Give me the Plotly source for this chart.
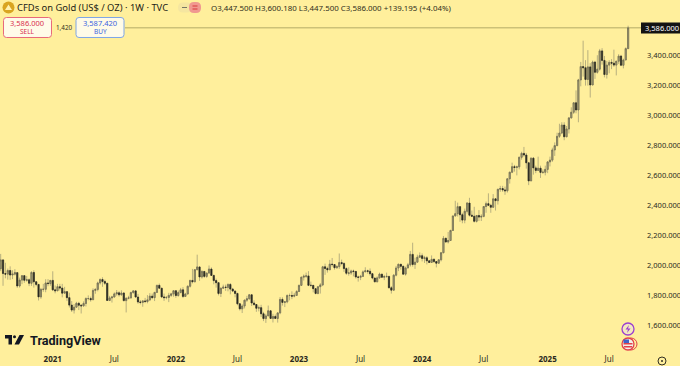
import pandas as pd
import plotly.graph_objects as go

closes = [2035,1944,1940,1964,1934,1940,1950,1861,1900,1930,1899,1902,1879,1951,1889,1871,1788,1838,1839,1881,1877,1898,
1835,1829,1856,1847,1813,1823,1783,1733,1700,1719,1745,1732,1728,1744,1777,1777,1769,1831,1838,1881,1904,1891,1879,1764,1781,1787,1808,1815,1802,1814,1763,1779,1781,1817,1828,1787,1754,1751,1761,1757,1768,1793,1783,1818,1865,1846,1788,1783,1784,1798,1808,1829,
1797,1817,1835,1791,1807,1859,1898,1889,1970,1988,1921,1958,1925,1947,1974,1931,1897,1883,1811,1846,1853,1851,1871,1840,1827,1811,1742,1708,1727,1766,1775,1802,1747,1737,1712,1716,1675,1643,1661,1695,1644,1657,1644,1681,1771,1751,1755,1797,1797,1793,1798,1824,
1865,1920,1926,1928,1865,1865,1843,1811,1856,1868,1989,1978,1969,2007,2004,1983,1990,2017,2011,1977,1946,1948,1961,1958,1921,1919,1925,1955,1962,1959,1943,1914,1889,1915,1940,1919,1924,1925,1849,1833,1933,1981,2006,1992,1940,1981,2002,2072,2005,2020,2053,2063,
2045,2049,2029,2018,2039,2024,2013,2036,2083,2179,2155,2165,2232,2329,2344,2391,2337,2301,2360,2415,2334,2327,2293,2332,2321,2326,2392,2411,2400,2387,2443,2431,2507,2512,2503,2497,2577,2621,2658,2653,2657,2721,2747,2736,2684,2563,2715,2650,2633,2648,2620,2621,2640,
2690,2702,2770,2799,2861,2883,2936,2858,2910,2984,3022,3085,3037,3238,3327,3319,3241,3325,3204,3357,3289,3310,3432,3368,3274,3337,3355,3350,3337,3363,3397,3336,3371,3447,3586]
highs = [2075,2040,2016,1977,1992,1966,1973,1953,1917,1932,1933,1928,1911,1960,1966,1893,1875,1848,1875,1906,1907,1900,
1959,1864,1875,1875,1875,1855,1825,1816,1760,1740,1755,1755,1740,1758,1785,1798,1790,1845,1845,1890,1912,1919,1903,1879,1795,1795,1818,1834,1825,1832,1818,1785,1795,1823,1834,1834,1808,1767,1765,1781,1800,1813,1810,1820,1869,1877,1810,1810,1794,1815,1815,1830,
1832,1830,1848,1853,1815,1865,1902,1975,1974,2070,1990,1966,1950,1950,1998,1985,1937,1910,1885,1850,1870,1870,1878,1880,1848,1830,1815,1745,1739,1770,1795,1807,1802,1765,1740,1730,1735,1688,1675,1730,1690,1675,1670,1685,1787,1785,1760,1805,1810,1825,1815,1833,
1870,1922,1938,1950,1960,1890,1855,1846,1858,1880,1995,2010,1990,2035,2048,2006,2000,2078,2037,2020,1985,1985,1970,1970,1960,1930,1935,1965,1986,1970,1978,1948,1915,1925,1950,1930,1935,1950,1925,1860,1940,1995,2010,2005,1998,1990,2015,2095,2150,2050,2070,2085,
2078,2062,2060,2035,2065,2045,2025,2040,2088,2195,2185,2222,2236,2330,2430,2418,2395,2350,2378,2422,2450,2365,2390,2335,2368,2340,2395,2425,2480,2410,2475,2445,2510,2530,2530,2525,2580,2625,2685,2670,2665,2725,2758,2790,2750,2690,2720,2722,2665,2725,2665,2640,2665,
2695,2725,2785,2820,2885,2945,2955,2955,2930,2990,3055,3088,3168,3245,3358,3500,3370,3437,3350,3367,3365,3403,3445,3450,3398,3365,3370,3377,3440,3365,3410,3405,3380,3455,3600.18]
lows = [1960,1862,1912,1903,1902,1907,1931,1848,1850,1873,1882,1889,1860,1861,1850,1859,1764,1775,1822,1819,1859,1862,
1827,1812,1826,1830,1785,1812,1760,1717,1687,1677,1719,1700,1677,1722,1724,1765,1756,1770,1809,1825,1870,1855,1867,1761,1760,1750,1784,1796,1790,1796,1758,1684,1772,1778,1809,1783,1742,1738,1722,1746,1745,1760,1772,1760,1815,1844,1780,1761,1772,1753,1788,1789,
1782,1789,1812,1780,1788,1807,1850,1878,1885,1965,1895,1910,1915,1915,1945,1930,1872,1850,1798,1787,1841,1828,1825,1805,1820,1785,1732,1697,1680,1711,1754,1770,1727,1728,1688,1691,1654,1626,1614,1660,1641,1617,1640,1616,1672,1730,1720,1745,1765,1773,1785,1795,
1825,1868,1897,1915,1860,1852,1818,1805,1805,1810,1860,1935,1950,1975,1990,1970,1975,1975,2000,1955,1935,1930,1935,1925,1910,1890,1900,1925,1960,1943,1930,1905,1885,1885,1910,1915,1900,1915,1845,1810,1828,1925,1960,1970,1935,1930,1985,1990,1990,1975,2020,2050,
2025,2015,2005,2015,2015,2015,1985,2010,2025,2080,2150,2145,2165,2230,2325,2325,2290,2280,2280,2345,2325,2325,2285,2285,2295,2295,2320,2350,2395,2350,2385,2365,2405,2490,2490,2470,2485,2545,2615,2625,2600,2640,2705,2725,2645,2535,2565,2605,2615,2630,2583,2610,2600,
2615,2660,2690,2730,2795,2850,2875,2835,2855,2880,2980,3010,3015,2955,3195,3260,3200,3200,3120,3205,3245,3280,3300,3340,3255,3247,3282,3310,3325,3268,3345,3330,3315,3375,3447.5]
first_open = 1976
opens = [first_open] + closes[:-1]
dates = pd.date_range("2020-08-03", periods=len(closes), freq="7D")
body_tops = [max(o, c) for o, c in zip(opens, closes)]
body_bottoms = [min(o, c) for o, c in zip(opens, closes)]

tick_dates = ["2021-01-04","2021-07-05","2022-01-03","2022-07-04","2023-01-02","2023-07-03","2024-01-01","2024-07-01","2025-01-06","2025-07-07"]
tick_labels = ["<b>2021</b>","Jul","<b>2022</b>","Jul","<b>2023</b>","Jul","<b>2024</b>","Jul","<b>2025</b>","Jul"]
price_ticks = [1600,1800,2000,2200,2400,2600,2800,3000,3200,3400]
last_close = 3586
title_text = "CFDs on Gold (US$ / OZ) · 1W · TVC"
ohlc_text = "O3,447.500 H3,600.180 L3,447.500 C3,586.000 +139.195 (+4.04%)"

W, H, ML, MR, MT, MB = 680, 366, 0, 37, 0, 16
PW, PH = W-ML-MR, H-MT-MB
px = lambda x: (x-ML)/PW
py = lambda y: 1-(y-MT)/PH
BG = "#FFEF9C"
FONT = "Noto Sans"
INK = "#2b2a1e"

fig = go.Figure()
WICK = "#a6a077"
fig.add_trace(go.Candlestick(
    x=dates, open=opens, high=highs, low=lows, close=closes,
    increasing=dict(line=dict(color=WICK, width=0.8), fillcolor=WICK),
    decreasing=dict(line=dict(color=WICK, width=0.8), fillcolor=WICK),
    whiskerwidth=0, hoverinfo="skip", showlegend=False))
fig.add_trace(go.Candlestick(
    x=dates, open=opens, high=body_tops, low=body_bottoms, close=closes,
    increasing=dict(line=dict(color="#6c684c", width=0.6), fillcolor="#a8a27a"),
    decreasing=dict(line=dict(color="#2a2a20", width=0.6), fillcolor="#2a2a20"),
    whiskerwidth=0, hoverinfo="skip", showlegend=False))

shapes = []
annots = []
def text(x, y, s, size=8, color=INK, anchor="left", **kw):
    annots.append(dict(xref="paper", yref="paper", x=px(x), y=py(y), text=s, showarrow=False,
                       xanchor=anchor, yanchor="middle", font=dict(family=FONT, size=size, color=color),
                       borderpad=0, borderwidth=0, **kw))
def box(x0, y0, x1, y1, fill, line=None, lw=1, kind="rect"):
    shapes.append(dict(type=kind, xref="paper", yref="paper", x0=px(x0), x1=px(x1), y0=py(y0), y1=py(y1),
                       fillcolor=fill, line=dict(color=line or fill, width=lw if line else 0), layer="above"))
def path(points, fill, line=None, lw=1):
    d = "M" + " L".join(f"{px(a):.5f},{py(b):.5f}" for a, b in points) + " Z"
    shapes.append(dict(type="path", xref="paper", yref="paper", path=d, fillcolor=fill,
                       line=dict(color=line or fill, width=lw if line else 0), layer="above"))
def rbox(x0, y0, x1, y1, r, fill, line=None, lw=1):
    P = lambda a, b: f"{px(a):.5f},{py(b):.5f}"
    d = (f"M{P(x0+r,y0)} L{P(x1-r,y0)} Q{P(x1,y0)} {P(x1,y0+r)} L{P(x1,y1-r)} Q{P(x1,y1)} {P(x1-r,y1)} "
         f"L{P(x0+r,y1)} Q{P(x0,y1)} {P(x0,y1-r)} L{P(x0,y0+r)} Q{P(x0,y0)} {P(x0+r,y0)} Z")
    shapes.append(dict(type="path", xref="paper", yref="paper", path=d, fillcolor=fill,
                       line=dict(color=line or fill, width=lw if line else 0), layer="above"))

# last price line and label
shapes.append(dict(type="line", xref="paper", yref="y", x0=px(125), x1=px(641), y0=last_close, y1=last_close,
                   line=dict(color="#b3aa68", width=1), layer="below"))
box(641, 22.5, 680, 33.5, "#131313")
text(678.5, 28, "3,586.000", size=7.5, color="#ffffff", anchor="right")

# header
box(2.5, 1.5, 14.5, 13.5, "#D9A520", kind="circle")
path([(5, 10), (8.5, 4.5), (12, 10)], "#FFF2B0")
text(17, 7.5, title_text, size=9.4, color="#1d1c16")
rbox(178, 2.5, 192, 12.5, 5, "#F5E6A0")
rbox(189, 2, 201, 13, 5, "#F09890")
path([(182, 7), (187, 7), (187, 8), (182, 8)], "#777763")
path([(192.5, 5.5), (197.5, 5.5), (197.5, 6.5), (192.5, 6.5)], "#D8383A")
path([(192.5, 8.5), (197.5, 8.5), (197.5, 9.5), (192.5, 9.5)], "#D8383A")
text(211, 7.5, ohlc_text, size=7.9, color="#302e20")

# sell/buy boxes
rbox(3.5, 17.5, 51.5, 37.5, 3, "#FFFBE8", "#E8697A", 1)
rbox(76, 17.5, 124, 37.5, 3, "#FFFBE8", "#7FA6E6", 1)
text(27.5, 23, "3,586.000", size=7.5, color="#D9304F", anchor="center")
text(27.5, 31.5, "SELL", size=6.5, color="#D9304F", anchor="center")
text(100, 23, "3,587.420", size=7.5, color="#3B63E0", anchor="center")
text(100, 31.5, "BUY", size=6.5, color="#3B63E0", anchor="center")
text(64, 27, "1,420", size=6.3, color="#333022", anchor="center")

# logo
path([(5, 335), (12, 335), (12, 344.5), (8.5, 344.5), (8.5, 338.5), (5, 338.5)], "#131722")
box(13, 335.2, 16, 338.3, "#131722", kind="circle")
path([(19.5, 335), (24, 335), (19, 344.5), (14.5, 344.5)], "#131722")
annots.append(dict(xref="paper", yref="paper", x=px(28), y=py(340), text="<b>TradingView</b>", showarrow=False,
                   xanchor="left", yanchor="middle", font=dict(family="Roboto", size=12.6, color="#131722")))

# event icons
box(622, 323, 634, 335, "#F4E9C0", "#9B3FD0", 1.3, kind="circle")
path([(629, 325), (625.5, 329.5), (628, 329.5), (627, 333), (630.5, 328.5), (628, 328.5)], "#9B3FD0")
box(625, 338, 637, 350, "rgba(0,0,0,0)", "#E2404A", 1, kind="circle")
box(622, 338, 634, 350, "#F2F0E8", "#E2404A", 1.3, kind="circle")
box(623.5, 343, 632.5, 344.5, "#E2404A")
box(624, 346, 632, 347.5, "#E2404A")
box(623.5, 339.5, 629, 343, "#3F63C8")

# gear
box(658, 357, 666, 365, "rgba(0,0,0,0)", "#333022", 1, kind="circle")
box(661, 360, 663, 362, "#333022", kind="circle")

fig.update_layout(
    width=W, height=H, margin=dict(l=ML, r=MR, t=MT, b=MB),
    paper_bgcolor=BG, plot_bgcolor=BG, showlegend=False,
    font=dict(family=FONT, color=INK), shapes=shapes, annotations=annots,
    xaxis=dict(type="date", range=[dates[0]-pd.Timedelta(days=2), dates[-1]+pd.Timedelta(days=44)],
               rangeslider=dict(visible=False), showgrid=False, zeroline=False, showline=False,
               tickmode="array", tickvals=tick_dates, ticktext=tick_labels, ticks="", ticklen=0,
               ticklabelstandoff=3, tickfont=dict(family=FONT, size=8, color=INK)),
    yaxis=dict(side="right", range=[1433, 3772], showgrid=False, zeroline=False, showline=False,
               tickmode="array", tickvals=price_ticks, tickformat=",.3f", ticks="",
               ticklabelstandoff=3, tickfont=dict(family=FONT, size=7.5, color=INK)),
)
fig.write_html("out.html", config=dict(displayModeBar=False), post_script="document.body.style.margin='0';")
